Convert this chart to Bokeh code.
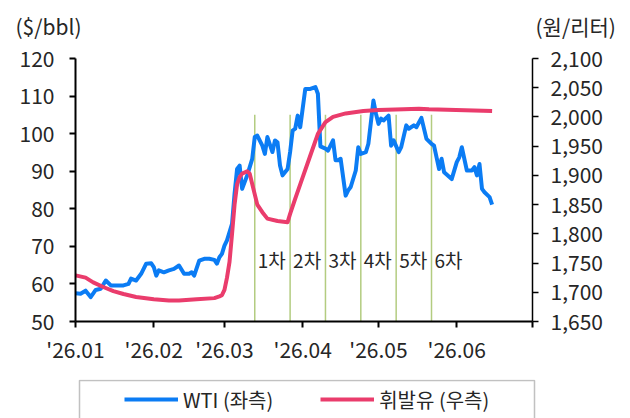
import pandas as pd
from bokeh.plotting import figure
from bokeh.layouts import column
from bokeh.models import (Range1d, LinearAxis, FixedTicker, NumeralTickFormatter,
                          Legend, LegendItem, Label, ColumnDataSource, BoxAnnotation)
from bokeh.core.properties import value
from bokeh.embed import file_html
from bokeh.resources import INLINE

# ---------------- data ----------------
wti_dates = [
    "2026-01-01", "2026-01-03", "2026-01-05", "2026-01-07", "2026-01-09", "2026-01-11",
    "2026-01-13", "2026-01-15", "2026-01-18", "2026-01-20", "2026-01-22", "2026-01-23",
    "2026-01-25", "2026-01-27", "2026-01-29", "2026-01-31", "2026-02-01", "2026-02-02",
    "2026-02-03", "2026-02-05", "2026-02-07", "2026-02-09", "2026-02-11", "2026-02-13",
    "2026-02-15", "2026-02-16", "2026-02-17", "2026-02-19", "2026-02-21", "2026-02-23",
    "2026-02-25", "2026-02-26", "2026-02-27", "2026-02-28", "2026-03-01", "2026-03-02",
    "2026-03-04", "2026-03-05", "2026-03-06", "2026-03-07", "2026-03-08", "2026-03-10",
    "2026-03-12", "2026-03-13", "2026-03-14", "2026-03-16", "2026-03-17", "2026-03-18",
    "2026-03-20", "2026-03-21", "2026-03-22", "2026-03-23", "2026-03-24", "2026-03-26",
    "2026-03-27", "2026-03-28", "2026-03-29", "2026-03-30", "2026-03-31", "2026-04-02",
    "2026-04-04", "2026-04-06", "2026-04-07", "2026-04-08", "2026-04-10", "2026-04-11",
    "2026-04-13", "2026-04-14", "2026-04-15", "2026-04-16", "2026-04-18", "2026-04-19",
    "2026-04-20", "2026-04-22", "2026-04-23", "2026-04-24", "2026-04-26", "2026-04-27",
    "2026-04-29", "2026-04-30", "2026-05-01", "2026-05-02", "2026-05-03", "2026-05-05",
    "2026-05-06", "2026-05-07", "2026-05-09", "2026-05-10", "2026-05-12", "2026-05-13",
    "2026-05-15", "2026-05-16", "2026-05-18", "2026-05-20", "2026-05-22", "2026-05-23",
    "2026-05-24", "2026-05-25", "2026-05-26", "2026-05-27", "2026-05-30", "2026-06-01",
    "2026-06-02", "2026-06-03", "2026-06-05", "2026-06-07", "2026-06-08", "2026-06-09",
    "2026-06-10", "2026-06-11", "2026-06-12", "2026-06-14", "2026-06-15",
]
wti_values = [
    57.5, 57.4, 58.2, 56.5, 58.4, 58.7,
    60.9, 59.6, 59.6, 59.6, 60.0, 61.4,
    60.9, 62.7, 65.4, 65.5, 64.5, 62.2,
    63.6, 63.1, 63.6, 64.0, 64.9, 62.7,
    62.7, 63.1, 62.2, 66.2, 66.7, 66.7,
    66.4, 65.4, 67.1, 68.0, 70.2, 71.6,
    76.0, 84.0, 90.6, 91.5, 85.3, 88.9,
    93.3, 99.1, 99.5, 96.8, 94.6, 99.1,
    95.1, 98.2, 97.7, 91.5, 88.9, 90.6,
    95.1, 100.8, 101.3, 104.8, 101.7, 111.9,
    111.9, 112.4, 110.6, 96.6, 96.0, 95.5,
    98.2, 92.9, 92.9, 93.3, 83.5, 84.9,
    85.8, 90.2, 96.4, 94.6, 95.1, 97.3,
    108.8, 105.3, 102.6, 104.0, 103.5, 104.8,
    96.8, 98.2, 95.1, 96.4, 102.2, 101.3,
    102.2, 101.7, 104.2, 98.6, 97.3, 96.8,
    93.7, 90.6, 93.3, 89.7, 87.9, 92.4,
    93.7, 96.4, 90.2, 90.2, 91.1, 88.9,
    91.9, 85.3, 84.4, 83.1, 81.1,
]

gas_dates = [
    "2026-01-01", "2026-01-05", "2026-01-08", "2026-01-12", "2026-01-16", "2026-01-20",
    "2026-01-25", "2026-02-01", "2026-02-07", "2026-02-11", "2026-02-18", "2026-02-25",
    "2026-02-27", "2026-02-28", "2026-03-01", "2026-03-02", "2026-03-03", "2026-03-04",
    "2026-03-05", "2026-03-06", "2026-03-07", "2026-03-08", "2026-03-10", "2026-03-11",
    "2026-03-12", "2026-03-14", "2026-03-16", "2026-03-18", "2026-03-22", "2026-03-26",
    "2026-03-27", "2026-03-29", "2026-04-01", "2026-04-04", "2026-04-07", "2026-04-10",
    "2026-04-13", "2026-04-18", "2026-04-25", "2026-05-01", "2026-05-11", "2026-05-17",
    "2026-05-21", "2026-06-15",
]
gas_values = [
    1729, 1725, 1717, 1709, 1702, 1697,
    1692, 1688, 1686, 1686, 1688, 1690,
    1693, 1695, 1704, 1725, 1752, 1800,
    1850, 1885, 1897, 1903, 1907, 1903,
    1885, 1850, 1837, 1826, 1822, 1820,
    1834, 1860, 1897, 1934, 1971, 1991,
    2000, 2006, 2010, 2012, 2013, 2014,
    2013, 2010,
]

event_dates = ["2026-03-13", "2026-03-27", "2026-04-10", "2026-04-24", "2026-05-08", "2026-05-22"]
event_labels = ["1차", "2차", "3차", "4차", "5차", "6차"]
event_top = 105
event_label_y = 66.6

x_tick_dates = ["2026-01-01", "2026-02-01", "2026-03-01", "2026-04-01",
                "2026-05-01", "2026-06-01", "2026-07-01"]
x_tick_labels = ["'26.01", "'26.02", "'26.03", "'26.04", "'26.05", "'26.06", ""]
left_ticks = [50, 60, 70, 80, 90, 100, 110, 120]
right_ticks = [1650, 1700, 1750, 1800, 1850, 1900, 1950, 2000, 2050, 2100]
left_unit = "($/bbl)"
right_unit = "(원/리터)"
series_names = ["WTI (좌측)", "휘발유 (우측)"]

# ---------------- styling ----------------
FONT = "Noto Sans CJK KR"
TXT = "#262626"
BLUE = "#0B7CF4"
RED = "#EA3C6C"
GREEN = "#B3CC80"
W = 622


def ms(d):
    return pd.Timestamp(d).value / 1e6


def blank(fig):
    fig.outline_line_color = None
    fig.grid.visible = False
    fig.background_fill_color = "white"
    fig.border_fill_color = "white"


def strip(height, xr, yr):
    f = figure(width=W, height=height, x_range=xr, y_range=yr,
               x_axis_location=None, y_axis_location=None,
               output_backend="svg", toolbar_location=None,
               min_border=0, min_border_left=0, min_border_right=0,
               min_border_top=0, min_border_bottom=0, frame_align=False)
    blank(f)
    return f


# ---------------- header (unit labels) ----------------
TOP_H = 42
head = strip(TOP_H, Range1d(0, 1), Range1d(0, 1))
head.add_layout(Label(x=15, y=TOP_H - 25, x_units="screen", y_units="screen", text=left_unit,
                      text_font=FONT, text_font_size="21px", text_color=TXT,
                      text_baseline="middle", text_align="left"))
head.add_layout(Label(x=535, y=TOP_H - 25, x_units="screen", y_units="screen", text=right_unit,
                      text_font=FONT, text_font_size="21px", text_color=TXT,
                      text_baseline="middle", text_align="left"))

# ---------------- main chart ----------------
wti_src = ColumnDataSource(dict(x=pd.to_datetime(wti_dates), y=wti_values))
gas_src = ColumnDataSource(dict(x=pd.to_datetime(gas_dates), y=gas_values))
ev_src = ColumnDataSource(dict(x=pd.to_datetime(event_dates), lab=event_labels,
                               y0=[left_ticks[0]] * len(event_dates),
                               y1=[event_top] * len(event_dates),
                               ly=[event_label_y] * len(event_dates)))

MAIN_H = 379 - TOP_H
p = figure(width=W, height=MAIN_H, x_axis_type="datetime",
           x_range=Range1d(ms(x_tick_dates[0]), ms(x_tick_dates[-1])),
           y_range=Range1d(left_ticks[0], left_ticks[-1]),
           output_backend="svg", toolbar_location=None,
           min_border_left=75, min_border_right=W - 532,
           min_border_top=58 - TOP_H, min_border_bottom=379 - 321, frame_align=False)
blank(p)
p.extra_y_ranges = {"gas": Range1d(right_ticks[0], right_ticks[-1])}

xa = p.xaxis[0]
xa.ticker = FixedTicker(ticks=[ms(d) for d in x_tick_dates])
xa.major_label_overrides = {ms(d): l for d, l in zip(x_tick_dates, x_tick_labels)}
xa.axis_line_width = 2
xa.axis_line_color = "black"
xa.major_tick_line_color = "black"
xa.major_tick_line_width = 2
xa.major_tick_out = 6
xa.major_tick_in = 0
xa.minor_tick_line_color = None
xa.major_label_text_font = FONT
xa.major_label_text_font_size = "21px"
xa.major_label_text_color = TXT
xa.major_label_standoff = 6

ya = p.yaxis[0]
ya.ticker = FixedTicker(ticks=left_ticks)
ya.axis_line_width = 2
ya.axis_line_color = "black"
ya.major_tick_line_color = "black"
ya.major_tick_line_width = 2
ya.major_tick_out = 6
ya.major_tick_in = 0
ya.minor_tick_line_color = None
ya.major_label_text_font = FONT
ya.major_label_text_font_size = "21px"
ya.major_label_text_color = TXT
ya.major_label_standoff = 15

ra = LinearAxis(y_range_name="gas", ticker=FixedTicker(ticks=right_ticks),
                formatter=NumeralTickFormatter(format="0,0"))
ra.axis_line_width = 1.5
ra.axis_line_color = "black"
ra.major_tick_line_color = "black"
ra.major_tick_line_width = 1.5
ra.major_tick_out = 6
ra.major_tick_in = 0
ra.minor_tick_line_color = None
ra.major_label_text_font = FONT
ra.major_label_text_font_size = "21px"
ra.major_label_text_color = TXT
ra.major_label_standoff = 12
p.add_layout(ra, "right")

p.segment(x0="x", y0="y0", x1="x", y1="y1", source=ev_src, line_color=GREEN, line_width=1.5)
p.text(x="x", y="ly", text="lab", source=ev_src, x_offset=3,
       text_font=value(FONT), text_font_size="19px", text_color=TXT,
       text_align="left", text_baseline="middle")

p.line("x", "y", source=wti_src, line_color=BLUE, line_width=4, line_join="round")
p.line("x", "y", source=gas_src, y_range_name="gas", line_color=RED, line_width=4,
       line_join="round")

# ---------------- legend strip ----------------
LEG_H = 418 - 379
leg = strip(LEG_H, Range1d(0, W), Range1d(LEG_H, 0))
leg.add_layout(BoxAnnotation(left=79, right=534, top=1, bottom=LEG_H + 30,
                             fill_color=None, fill_alpha=0,
                             line_color="#333333", line_width=1.5))
# single-point renderers: nothing drawn, they only carry the legend styles
lr1 = leg.line(x=[0], y=[0], line_color=BLUE, line_width=4)
lr2 = leg.line(x=[0], y=[0], line_color=RED, line_width=4)
legend = Legend(items=[LegendItem(label=series_names[0], renderers=[lr1]),
                       LegendItem(label=series_names[1], renderers=[lr2])],
                orientation="horizontal", location=(124, LEG_H - 20 - 15),
                padding=0, spacing=47, glyph_width=54, glyph_height=30, label_height=30,
                label_standoff=5, margin=0,
                label_text_font=FONT, label_text_font_size="20px", label_text_color=TXT,
                border_line_color=None, background_fill_alpha=0)
leg.add_layout(legend, "center")

layout = column(head, p, leg, spacing=0)
open("out.html", "w").write(file_html(layout, INLINE))
